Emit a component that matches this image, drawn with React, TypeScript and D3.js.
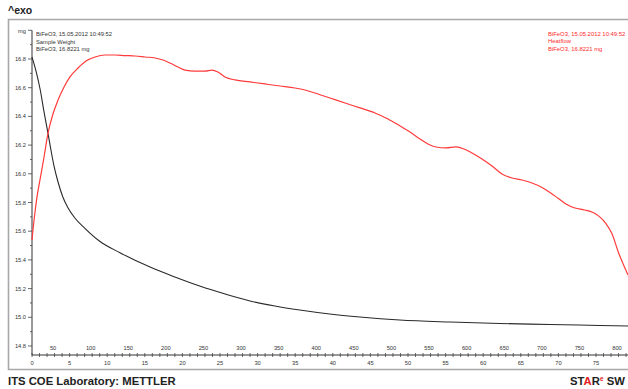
import React from "react";
import * as d3 from "d3";

// Sample weight (TGA) — time in minutes, mass in mg
const weightTime = [0, 0.5, 1.1, 1.6, 2.0, 2.4, 2.9, 3.5, 4.1, 4.8, 5.7, 7.0, 9.0, 11.7, 15.7, 19.0, 22.3, 25.7, 29.0, 32.3, 35.6, 39.6, 43.6, 48.9, 55.6, 62.2, 68.9, 75.5, 79.3];
const weightMass = [16.814, 16.723, 16.584, 16.431, 16.319, 16.201, 16.061, 15.936, 15.838, 15.762, 15.692, 15.622, 15.53, 15.45, 15.35, 15.281, 15.218, 15.162, 15.114, 15.079, 15.051, 15.023, 15.002, 14.981, 14.967, 14.957, 14.95, 14.943, 14.939];

// Heat flow (DSC) — time in minutes, signal on the plot scale
const heatTime = [0, 0.13, 0.4, 0.66, 1.06, 1.6, 2.13, 2.79, 3.46, 4.26, 5.05, 6.12, 7.18, 8.38, 9.71, 11.04, 12.37, 13.7, 15.03, 16.36, 17.42, 18.35, 19.41, 20.35, 21.68, 23.01, 23.94, 24.73, 25.66, 27.0, 28.99, 30.98, 32.98, 34.97, 36.3, 38.03, 39.63, 41.62, 43.62, 45.61, 47.34, 48.94, 50.27, 51.6, 52.66, 53.72, 55.05, 56.38, 57.45, 58.51, 59.84, 61.17, 62.5, 63.83, 65.16, 66.49, 67.82, 68.88, 69.95, 71.0, 72.2, 73.5, 74.6, 75.5, 76.3, 77.1, 78.0, 79.26];
const heatFlow = [15.539, 15.608, 15.734, 15.838, 15.957, 16.117, 16.284, 16.417, 16.514, 16.605, 16.675, 16.737, 16.786, 16.814, 16.828, 16.828, 16.824, 16.821, 16.814, 16.807, 16.793, 16.772, 16.744, 16.723, 16.716, 16.716, 16.723, 16.709, 16.675, 16.654, 16.64, 16.626, 16.612, 16.598, 16.584, 16.556, 16.528, 16.493, 16.459, 16.424, 16.382, 16.333, 16.291, 16.243, 16.208, 16.187, 16.18, 16.187, 16.173, 16.145, 16.103, 16.054, 15.999, 15.971, 15.957, 15.936, 15.905, 15.87, 15.83, 15.79, 15.762, 15.748, 15.73, 15.7, 15.655, 15.585, 15.45, 15.295];

const massTicks = [14.8, 15.0, 15.2, 15.4, 15.6, 15.8, 16.0, 16.2, 16.4, 16.6, 16.8];
const tempTicks = [50, 100, 150, 200, 250, 300, 350, 400, 450, 500, 550, 600, 650, 700, 750, 800];
const timeTicks = [0, 5, 10, 15, 20, 25, 30, 35, 40, 45, 50, 55, 60, 65, 70, 75];

const startTemp = 22; // °C at t = 0
const heatingRate = 10; // K/min

const weightInfo = ["BiFeO3, 15.05.2012 10:49:52", "Sample Weight", "BiFeO3, 16.8221 mg"];
const heatInfo = ["BiFeO3, 15.05.2012 10:49:52", "Heatflow", "BiFeO3, 16.8221 mg"];

export default function App() {
  const W = 628;
  const H = 389;
  const x = d3.scaleLinear().domain([0, 80]).range([32, 633.6]);
  const y = d3.scaleLinear().domain([14.8, 16.8]).range([346, 59]);
  const axisY = 355;
  const font = "'Liberation Sans', Arial, sans-serif";

  const line = d3
    .line<[number, number]>()
    .x((d) => x(d[0]))
    .y((d) => y(d[1]))
    .curve(d3.curveMonotoneX);

  const weightPath = line(weightTime.map((t, i) => [t, weightMass[i]]) as [number, number][]) || "";
  const heatPath = line(heatTime.map((t, i) => [t, heatFlow[i]]) as [number, number][]) || "";

  const minorX = d3.range(0, 80, 1);
  const minorY = d3.range(14.8, 17.0001, 0.1);

  return (
    <svg
      width={W}
      height={H}
      style={{ position: "absolute", left: 0, top: 0, background: "#fff" }}
      fontFamily={font}
    >
      <rect x={0} y={0} width={W} height={H} fill="#fff" />
      {/* ^exo marker */}
      <text x={8} y={14} fontSize={10.5} fontWeight="bold" fill="#222">
        ^exo
      </text>

      {/* frame */}
      <path d={`M${W + 5},19.5 H8.5 V369.5 H${W + 5}`} fill="none" stroke="#a8a8a8" strokeWidth={1.6} />

      {/* y axis */}
      <line x1={32} x2={32} y1={y(17.0)} y2={axisY} stroke="#333" strokeWidth={1} />
      {minorY.map((v, i) => (
        <line
          key={`ym${i}`}
          x1={32}
          x2={i % 2 === 0 ? 28 : 30}
          y1={y(v)}
          y2={y(v)}
          stroke="#444"
          strokeWidth={0.8}
        />
      ))}
      {massTicks.map((v) => (
        <text key={`yl${v}`} x={26} y={y(v) + 2} fontSize={5.7} textAnchor="end" fill="#333">
          {v.toFixed(1)}
        </text>
      ))}
      <text x={26} y={y(17.0) + 3} fontSize={5.7} textAnchor="end" fill="#333">
        mg
      </text>

      {/* x axis */}
      <line x1={32} x2={W} y1={axisY} y2={axisY} stroke="#333" strokeWidth={1} />
      {minorX.map((t) => (
        <line key={`xm${t}`} x1={x(t)} x2={x(t)} y1={axisY - 2} y2={axisY + 2} stroke="#444" strokeWidth={0.8} />
      ))}
      {tempTicks.map((T) => (
        <text
          key={`tt${T}`}
          x={x((T - startTemp) / heatingRate)}
          y={350}
          fontSize={5.7}
          textAnchor="middle"
          fill="#333"
        >
          {T}
        </text>
      ))}
      {timeTicks.map((t) => (
        <text key={`tm${t}`} x={x(t)} y={365} fontSize={5.7} textAnchor="middle" fill="#333">
          {t}
        </text>
      ))}

      {/* curves */}
      <path d={weightPath} fill="none" stroke="#2a2a2a" strokeWidth={1.1} />
      <path d={heatPath} fill="none" stroke="#ff3a3a" strokeWidth={1.2} />

      {/* curve annotations */}
      {weightInfo.map((s, i) => (
        <text key={`wi${i}`} x={36} y={36 + i * 7.6} fontSize={5.8} fill="#333">
          {s}
        </text>
      ))}
      {heatInfo.map((s, i) => (
        <text key={`hi${i}`} x={548} y={36 + i * 7.4} fontSize={5.9} fill="#ff2a2a">
          {s}
        </text>
      ))}

      {/* footer */}
      <text x={8} y={385} fontSize={11.3} fontWeight="bold" fill="#222">
        ITS COE Laboratory: METTLER
      </text>
      <text x={570} y={385} fontSize={11.3} fontWeight="bold" fill="#222">
        <tspan>ST</tspan>
        <tspan fill="#e32020">A</tspan>
        <tspan>R</tspan>
        <tspan fill="#e32020" fontSize={6.5} dy={-4}>
          e
        </tspan>
        <tspan dy={4}> SW</tspan>
      </text>
    </svg>
  );
}
